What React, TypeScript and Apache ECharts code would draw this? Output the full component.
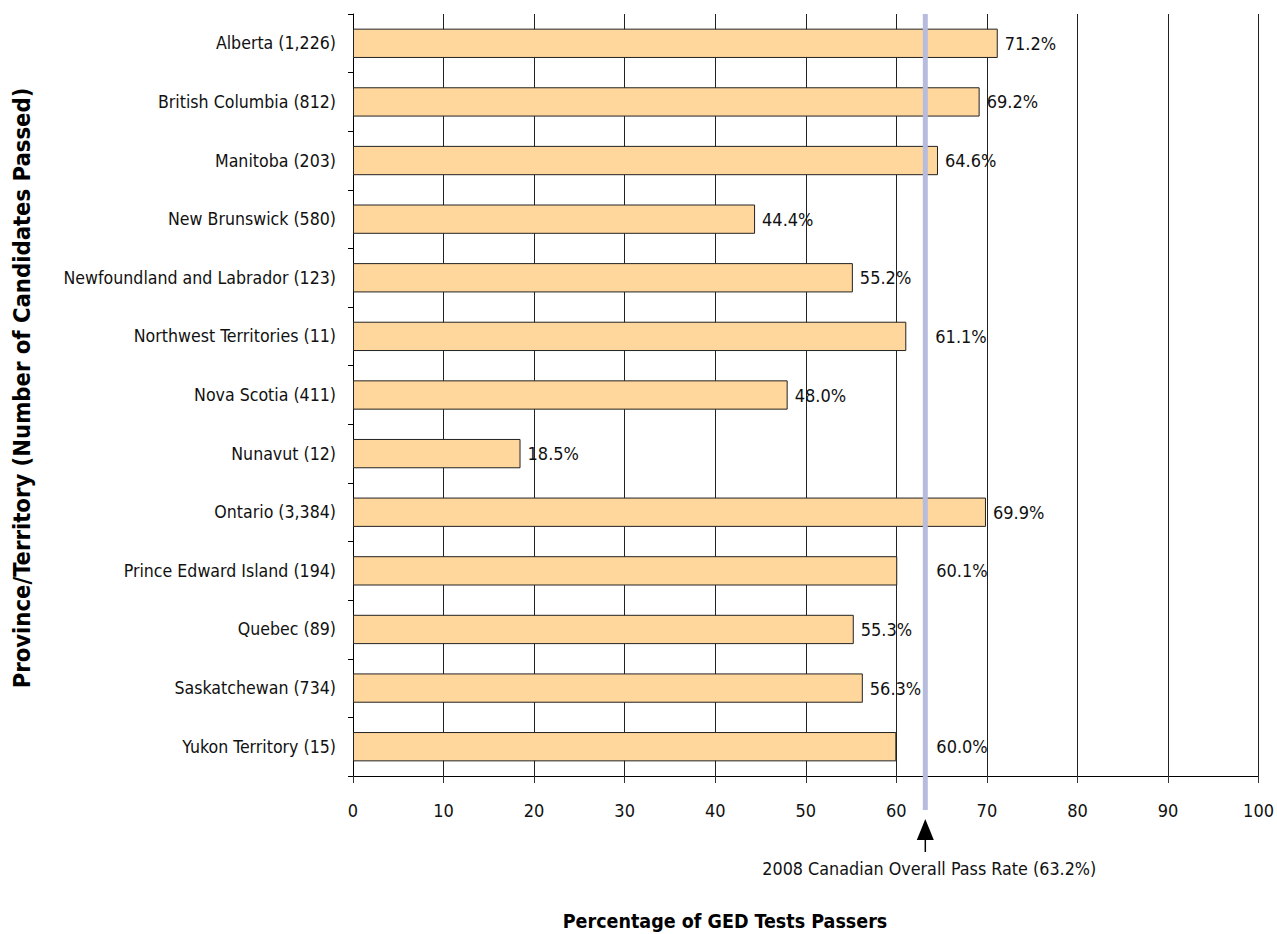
import React, { useEffect, useRef } from "react";
import * as echarts from "echarts";

const categories = [
  "Alberta (1,226)",
  "British Columbia (812)",
  "Manitoba (203)",
  "New Brunswick (580)",
  "Newfoundland and Labrador (123)",
  "Northwest Territories (11)",
  "Nova Scotia (411)",
  "Nunavut (12)",
  "Ontario (3,384)",
  "Prince Edward Island (194)",
  "Quebec (89)",
  "Saskatchewan (734)",
  "Yukon Territory (15)",
];
const passRates = [71.2, 69.2, 64.6, 44.4, 55.2, 61.1, 48.0, 18.5, 69.9, 60.1, 55.3, 56.3, 60.0];
// extra label shift (px) for labels moved past the reference line
const labelShift = [0, 0, 0, 0, 0, 22, 0, 0, 0, 32, 0, 0, 33];
const overallRate = 63.2;
const overallLabel = "2008 Canadian Overall Pass Rate (63.2%)";
const xTitle = "Percentage of GED Tests Passers";
const yTitle = "Province/Territory (Number of Candidates Passed)";

const FONT = "'DejaVu Sans Condensed', 'Liberation Sans Narrow', sans-serif";

export default function App() {
  const ref = useRef<HTMLDivElement>(null);
  useEffect(() => {
    if (!ref.current) return;
    const chart = echarts.init(ref.current, undefined, { renderer: "svg" });
    chart.setOption({
      animation: false,
      backgroundColor: "#ffffff",
      grid: { left: 353, right: 9, top: 14, bottom: 158, containLabel: false },
      xAxis: {
        type: "value",
        min: 0,
        max: 100,
        interval: 10,
        axisLine: { show: true, lineStyle: { color: "#000", width: 1 } },
        axisTick: { show: true, length: 7, lineStyle: { color: "#333" } },
        axisLabel: { color: "#111", fontSize: 18, fontFamily: FONT, margin: 25 },
        splitLine: { show: true, lineStyle: { color: "#222", width: 1 } },
      },
      yAxis: {
        type: "category",
        data: categories,
        inverse: true,
        axisLine: { show: true, lineStyle: { color: "#000", width: 1 } },
        axisTick: { show: true, length: 5, lineStyle: { color: "#000" } },
        axisLabel: { color: "#111", fontSize: 17.6, fontFamily: FONT, margin: 17 },
        splitLine: { show: false },
      },
      series: [
        {
          type: "bar",
          barWidth: "50%",
          data: passRates.map((v, i) => ({
            value: v,
            label: { offset: [labelShift[i], 0] },
          })),
          itemStyle: { color: "#FFD69B", borderColor: "#222", borderWidth: 1 },
          label: {
            show: true,
            position: "right",
            distance: 7,
            color: "#111",
            fontSize: 18,
            fontFamily: FONT,
            formatter: (p: any) => Number(p.value).toFixed(1) + "%",
          },
        },
      ],
    });

    const px = chart.convertToPixel({ xAxisIndex: 0 }, overallRate) as number;
    const gridTop = 14;
    chart.setOption({
      graphic: [
        {
          type: "line",
          shape: { x1: px, y1: gridTop, x2: px, y2: 810 },
          style: { stroke: "#B7BCDC", lineWidth: 5 },
          z: 100,
        },
        {
          type: "polygon",
          shape: { points: [[px, 819], [px - 8.5, 840], [px + 8.5, 840]] },
          style: { fill: "#000" },
        },
        {
          type: "line",
          shape: { x1: px, y1: 838, x2: px, y2: 852 },
          style: { stroke: "#000", lineWidth: 1.5 },
        },
        {
          type: "text",
          x: px + 4,
          y: 868,
          style: {
            text: overallLabel,
            fontSize: 17.8,
            fontFamily: FONT,
            fill: "#111",
            align: "center",
            verticalAlign: "middle",
          },
        },
        {
          type: "text",
          x: 725,
          y: 921,
          style: {
            text: xTitle,
            fontSize: 19.5,
            fontWeight: "bold",
            fontFamily: FONT,
            fill: "#000",
            align: "center",
            verticalAlign: "middle",
          },
        },
        {
          type: "text",
          x: 22,
          y: 388,
          rotation: Math.PI / 2,
          style: {
            text: yTitle,
            fontSize: 23.6,
            fontWeight: "bold",
            fontFamily: FONT,
            fill: "#000",
            align: "center",
            verticalAlign: "middle",
          },
        },
      ],
    });
    return () => chart.dispose();
  }, []);
  return (
    <div
      ref={ref}
      style={{ position: "fixed", left: 0, top: 0, width: 1277, height: 934, background: "#fff" }}
    />
  );
}
